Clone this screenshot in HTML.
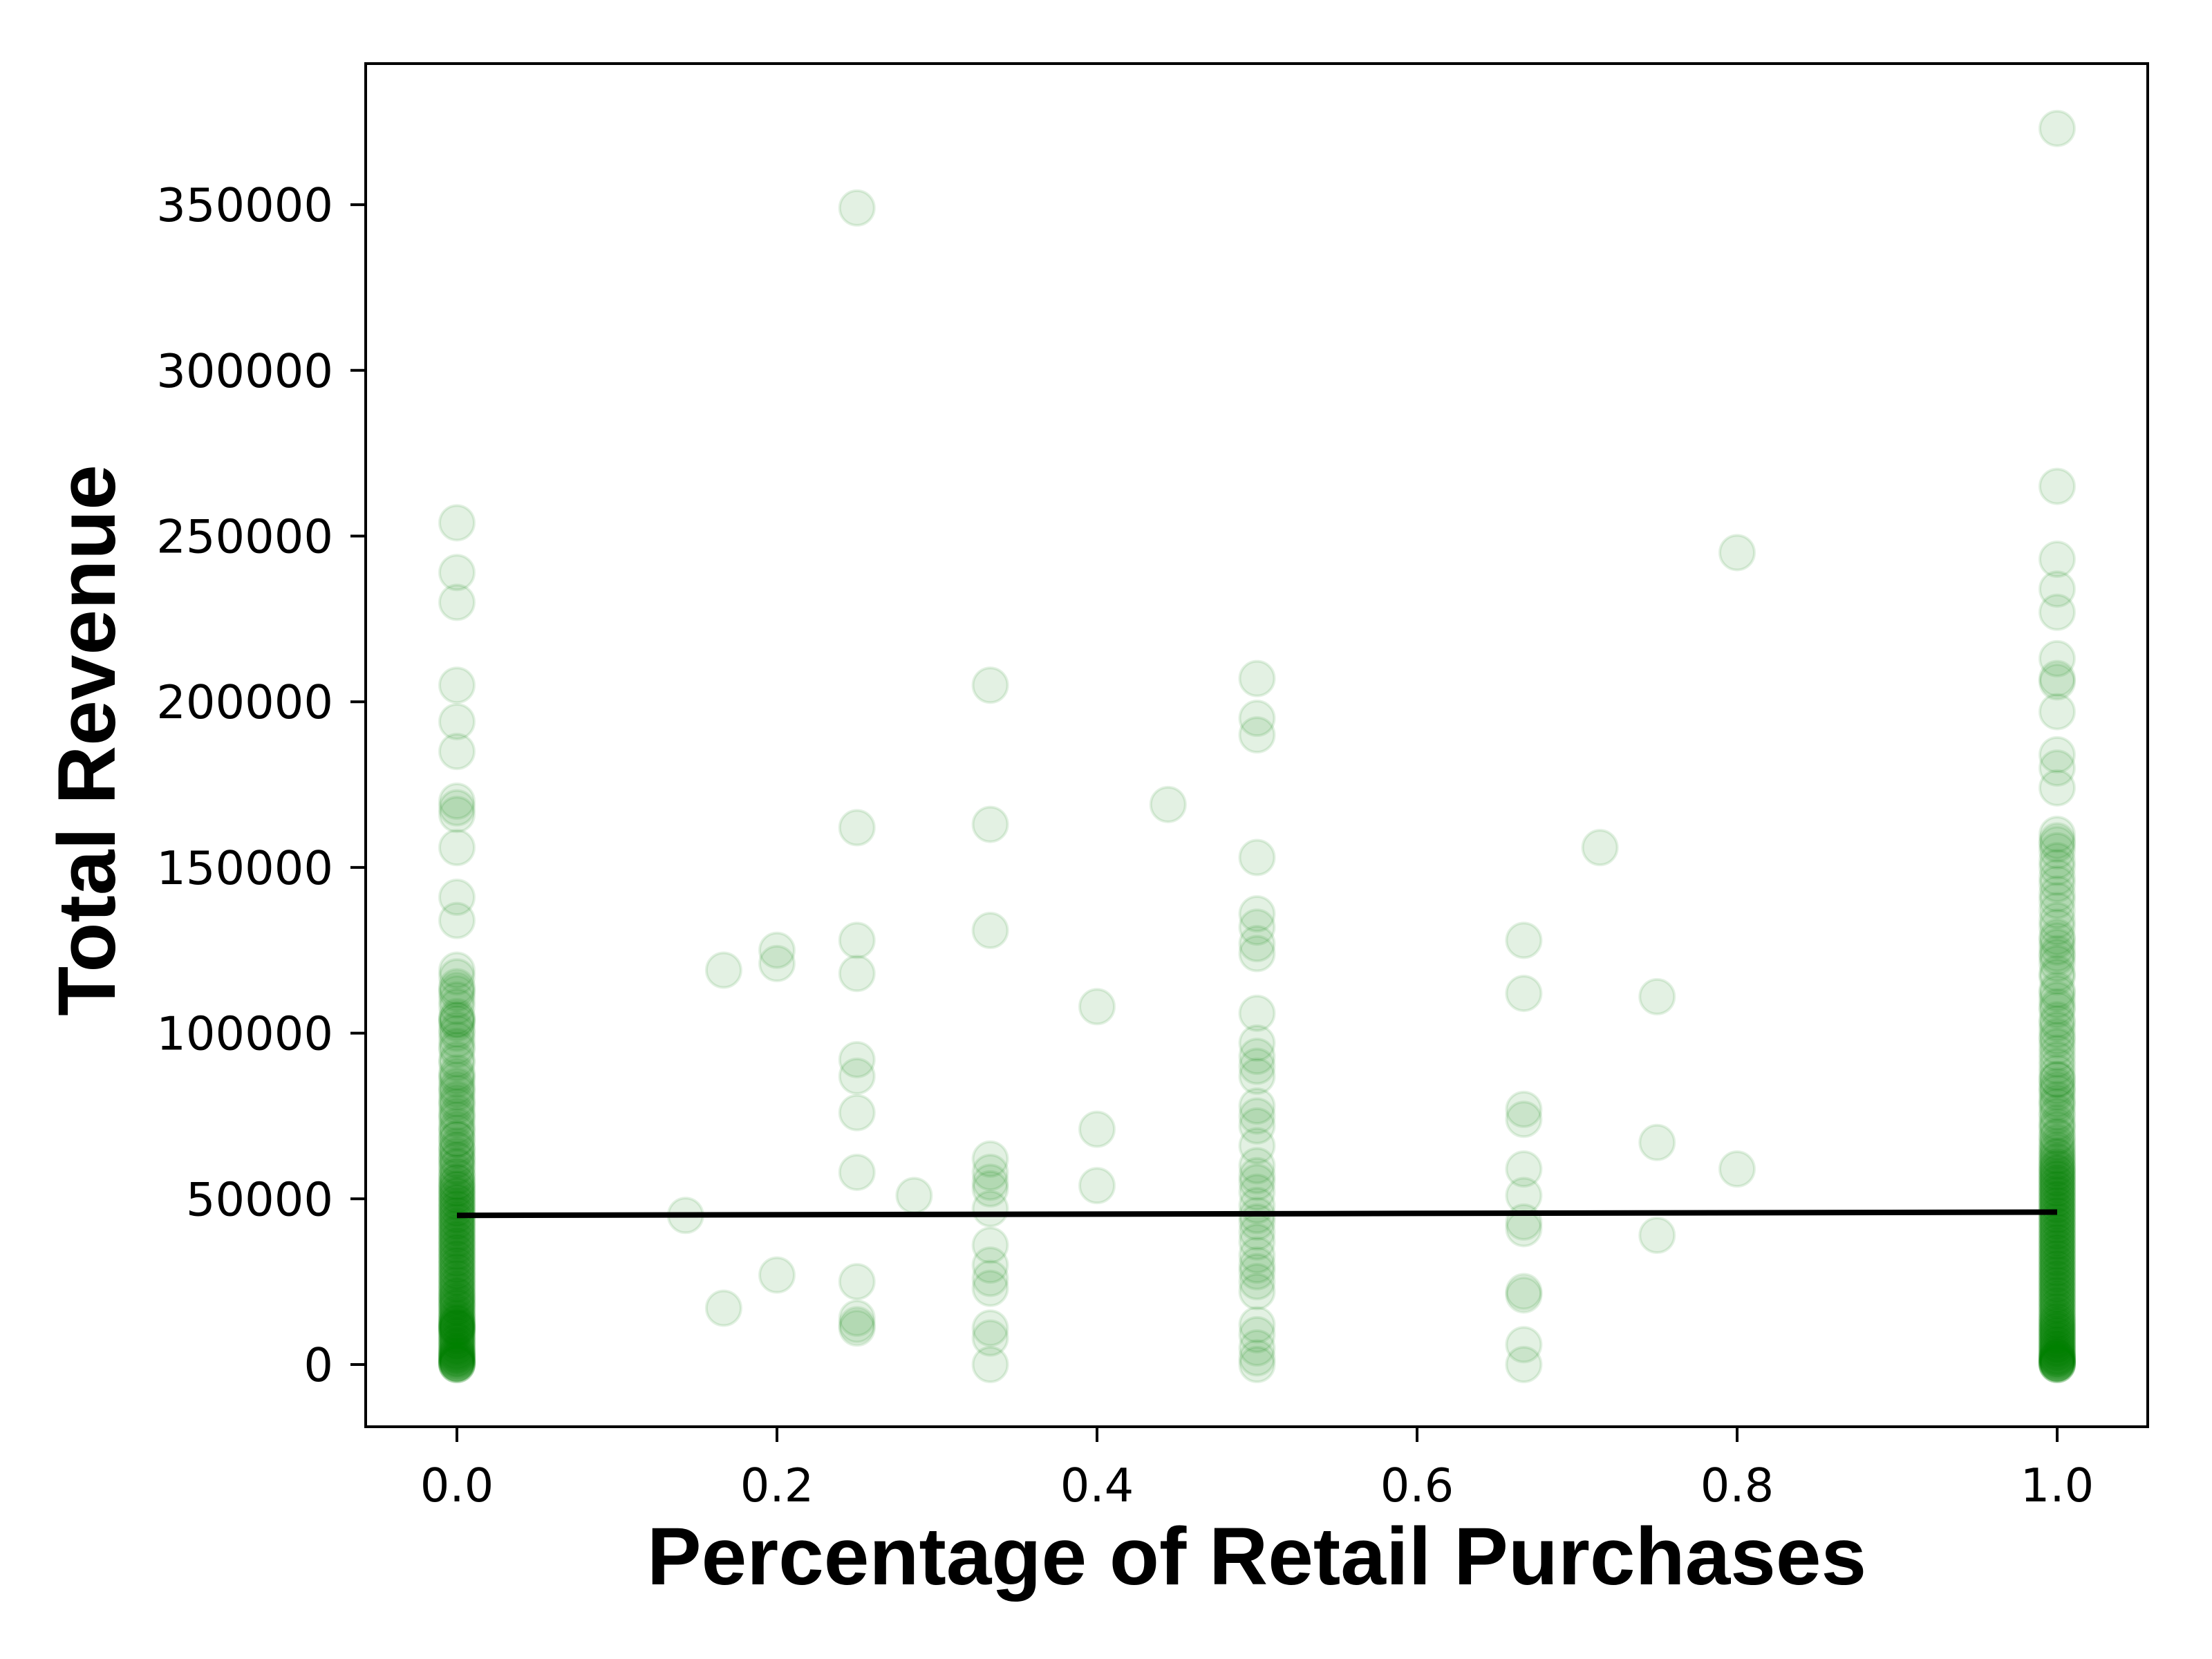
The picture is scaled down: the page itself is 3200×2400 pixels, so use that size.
<!DOCTYPE html>
<html><head><meta charset="utf-8"><style>
html,body{margin:0;padding:0;background:#fff;}
svg{display:block;}
.tick{font-family:"DejaVu Sans","Liberation Sans",sans-serif;font-size:67px;fill:#000;}
.title{font-family:"Liberation Sans",sans-serif;font-weight:bold;font-size:118px;fill:#000;}
</style></head><body>
<svg id="chart" width="3200" height="2400" viewBox="0 0 3200 2400" xmlns="http://www.w3.org/2000/svg">
<rect x="0" y="0" width="3200" height="2400" fill="#fff"/>
<g id="points"></g>
<g id="fit"></g>
<rect x="529" y="92" width="2578" height="1972" fill="none" stroke="#000" stroke-width="4"/>
<g id="xticks"></g>
<g id="yticks"></g>
<text class="title" x="1818" y="2292" text-anchor="middle">Percentage of Retail Purchases</text>
<text class="title" x="0" y="0" text-anchor="middle" transform="translate(166,1071) rotate(-90)">Total Revenue</text>
</svg>
<script>
const xTicks=[0,0.2,0.4,0.6,0.8,1.0];
const xTickLabels=["0.0","0.2","0.4","0.6","0.8","1.0"];
const yTicks=[0,50000,100000,150000,200000,250000,300000,350000];
const yTickLabels=["0","50000","100000","150000","200000","250000","300000","350000"];
const col0=[0,0,300,500,800,1200,1500,1800,2200,2500,3000,3400,3800,4500,5200,6000,6800,7500,8200,9000,9800,10500,10800,11000,11200,11500,12000,12400,12800,13500,14300,15000,16000,17000,17800,18500,19500,20300,21000,22000,23000,24000,25000,26000,27000,28000,29000,30000,31000,32000,33000,34000,35000,36000,37000,38000,39000,40000,41000,42000,43000,44000,45000,46000,47000,48000,49000,50000,51000,52000,53000,54000,55000,56500,58000,60000,61500,63000,64500,66000,68000,70000,72000,74000,76000,78000,80000,82000,84000,86000,88000,92000,95000,98000,101000,103000,104000,105000,110000,112000,114000,117000,119000,134000,141000,156000,166000,168000,170000,185000,194000,205000,230000,239000,254000];
const col0b=[0,700,1600,2800,4000,5500,7000,8800,10000,11300,12600,14000,15500,17300,19000,20700,22500,24300,26200,28100,30000,31900,33800,35700,37600,39500,41400,43300,45200,47100,49000,51000,53000,55000,57000,59500,62000,65000,68000,71000,75000,79000,83000,87000,91000,96000,100000,104000,108000,113000];
const col1=[0,0,200,400,600,900,1200,1500,1800,2000,2300,2600,3200,3800,4400,5000,5700,6300,7000,7700,8400,9000,9700,10400,11000,11800,12500,13300,14000,15000,16000,17000,18000,19000,20000,21000,22000,23000,24000,25000,26000,27000,28000,29000,30000,31000,32000,33000,34000,35000,36000,37000,38000,39000,40000,41000,42000,43000,44000,45000,46000,47000,48000,49000,50000,51000,52000,53000,54000,55000,56000,57000,58000,59000,60000,61500,63000,65000,67000,69000,71000,73000,76000,78000,80000,82000,84000,86000,88000,92000,96000,98000,101000,104000,107000,110000,113000,117000,121000,123000,126000,129000,132000,137000,142000,145000,150000,155000,158000,160000,174000,180000,184000,197000,206000,207000,213000,227000,234000,243000,265000,373000];
const col1b=[0,600,1400,2400,3500,4800,6100,7500,8900,10300,11700,13100,14600,16200,17800,19400,21000,22600,24200,25800,27400,29000,30600,32200,33800,35400,37000,38600,40200,41800,43400,45000,46600,48200,49800,51400,53000,54600,56200,57800,59400,61000,62600,64200,66000,68500,72000,75000,79000,83000,86000,90000,94000,99000,103000,108000,112000,118000,124000,128000,134000,140000,147000,152000,157000];
const colA=[45000];           // x = 1/7
const colB=[119000,17000];    // x = 1/6
const colC=[125000,121000,27000]; // x = 0.2
const colD=[349000,162000,128000,118000,92000,87000,76000,58000,25000,14000,12000,11000]; // x = 0.25
const colE=[51000];           // x = 2/7
const colF=[205000,163000,131000,62000,58000,55000,53000,47000,36000,30000,26000,23000,11000,8000,0]; // x = 1/3
const colG=[108000,71000,54000]; // x = 0.4
const colH=[169000];          // x = 4/9
const colI=[207000,195000,190000,153000,136000,132000,127000,124000,106000,97000,93000,90000,87000,78000,75000,72000,66000,60000,57000,55000,52000,48000,45000,43000,40000,37000,33000,30000,28000,25000,22000,12000,9000,5000,2000,0]; // x = 0.5
const colJ=[128000,112000,77000,74000,59000,51000,43000,41000,22000,21000,6000,0]; // x = 2/3
const colK=[156000];          // x = 5/7
const colL=[111000,67000,39000]; // x = 0.75
const colM=[245000,59000];    // x = 0.8
const groupX=[0,0,0.1429,0.1667,0.2,0.25,0.2857,0.3333,0.4,0.4444,0.5,0.6667,0.7143,0.75,0.8,1,1];
const groupY=[col0,col0b,colA,colB,colC,colD,colE,colF,colG,colH,colI,colJ,colK,colL,colM,col1,col1b];
const fitX=[0,1];
const fitY=[45000,46000];

const X0=661,X1=2976,Y0=1974,Ypx50k=239.7;
function sx(v){return X0+(X1-X0)*v;}
function sy(v){return Y0-v/50000*Ypx50k;}
const NS="http://www.w3.org/2000/svg";
function mk(tag,attrs,parent){const e=document.createElementNS(NS,tag);for(const k in attrs)e.setAttribute(k,attrs[k]);parent.appendChild(e);return e;}
const pg=document.getElementById('points');
function dot(x,y){
  const c=mk('circle',{cx:sx(x),cy:sy(y),r:25,fill:'rgba(0,128,0,0.11)',stroke:'rgba(0,128,0,0.11)','stroke-width':4},pg);
  
  
}
groupX.forEach((x,i)=>groupY[i].forEach(v=>dot(x,v)));
const fg=document.getElementById('fit');
const ln=mk('line',{x1:sx(fitX[0]),y1:sy(fitY[0]),x2:sx(fitX[1]),y2:sy(fitY[1]),stroke:'#000','stroke-width':8},fg);


const xg=document.getElementById('xticks');
xTicks.forEach((v,i)=>{
  const t=mk('line',{x1:sx(v),x2:sx(v),y1:2064,y2:2086,stroke:'#000','stroke-width':4},xg);
  
  
  const l=mk('text',{x:sx(v),y:2172,'text-anchor':'middle',class:'tick'},xg);
  l.textContent=xTickLabels[i];
  
  
});
const yg=document.getElementById('yticks');
yTicks.forEach((v,i)=>{
  const t=mk('line',{x1:507,x2:529,y1:sy(v),y2:sy(v),stroke:'#000','stroke-width':4},yg);
  
  
  const l=mk('text',{x:482,y:sy(v)+24,'text-anchor':'end',class:'tick'},yg);
  l.textContent=yTickLabels[i];
  
  
});
</script>
</body></html>
